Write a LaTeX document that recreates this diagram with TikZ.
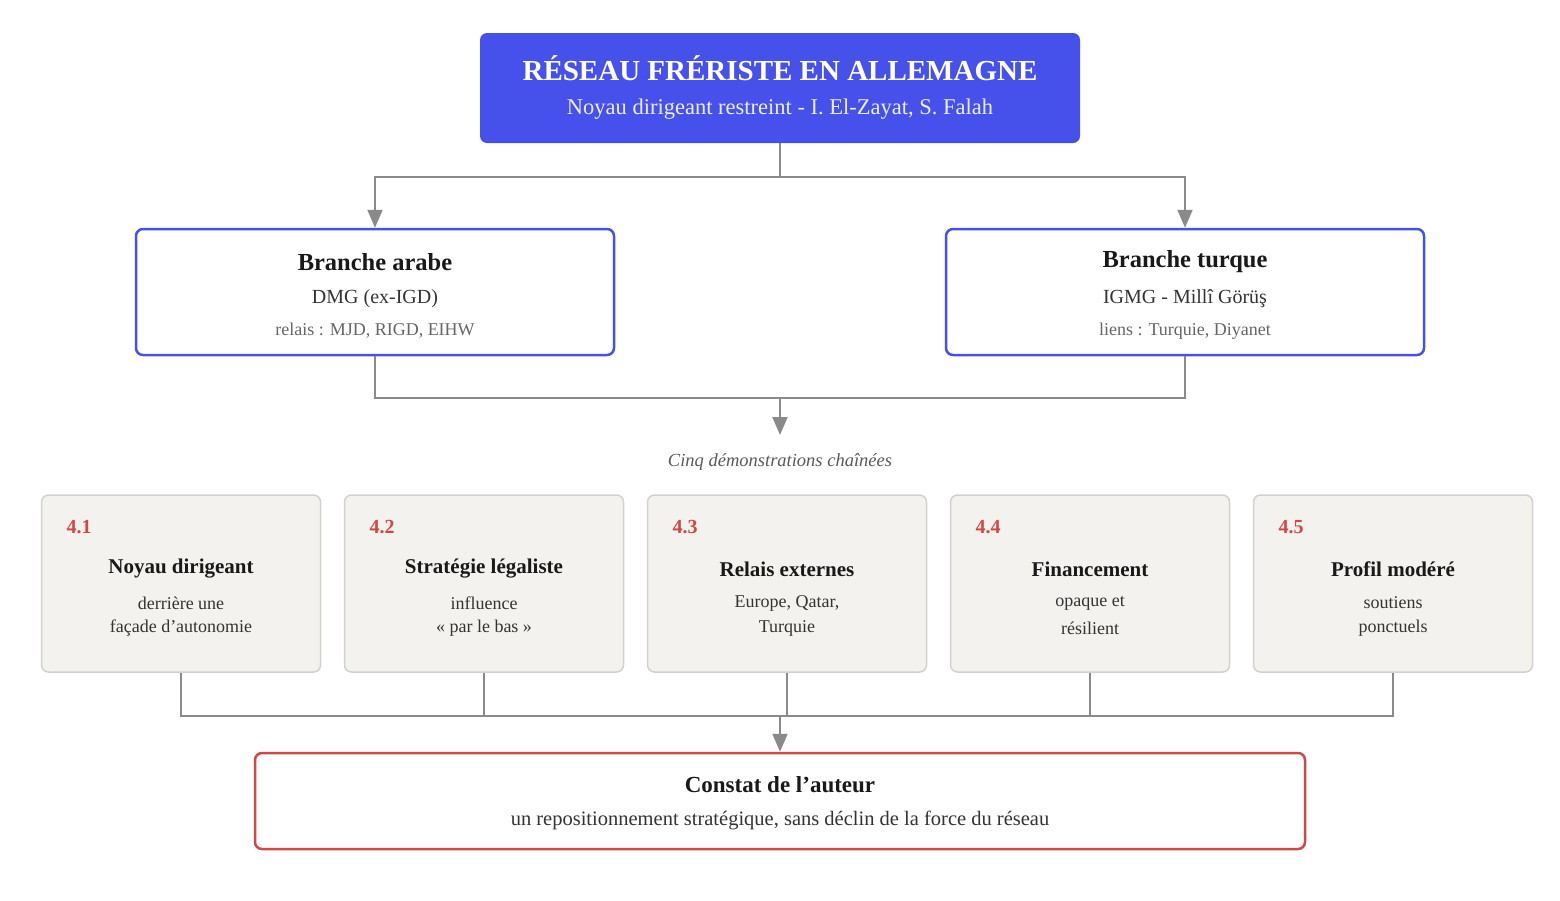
\documentclass[tikz,border=0pt]{standalone}
\usepackage{fontspec}
\setmainfont{Liberation Serif}
\usetikzlibrary{arrows.meta}
\definecolor{cblue}{HTML}{4651EC}
\definecolor{cred}{HTML}{D24848}
\definecolor{cgrey}{HTML}{8A8A8A}
\definecolor{cfill}{HTML}{F3F2EE}
\definecolor{cbord}{HTML}{D2D1CC}
\definecolor{ctext}{HTML}{333333}
\newcommand{\apos}{{\char"0027}}
\begin{document}
\begin{tikzpicture}[x=1pt,y=-1pt,
 conn/.style={draw=cgrey,line width=2pt},
 arr/.style={conn,-{Triangle[width=15pt,length=18pt]}},
 box/.style={rounded corners=7pt,inner sep=0pt},
 fs/.style={font=\fontsize{#1}{#1}\selectfont},
 bs/.style={font=\bfseries\fontsize{#1}{#1}\selectfont},
 is/.style={font=\itshape\fontsize{#1}{#1}\selectfont}]
\useasboundingbox (0,0) rectangle (1560,900);
% title
\node[box,fill=cblue,minimum width=600pt,minimum height=110pt] (top) at (780,88) {};
\node[bs=29,text=white] (t1) at (780,68) {RÉSEAU FRÉRISTE EN ALLEMAGNE};
\node[fs=22.5,text=white!90!cblue] (t2) at (780,109) {Noyau dirigeant restreint - I. El-Zayat, S. Falah};
% branches
\foreach \n/\x/\a/\b/\c in {bl/375/Branche arabe/DMG (ex-IGD)/{relais : MJD, RIGD, EIHW},br/1185/Branche turque/IGMG - Millî Görüş/{liens : Turquie, Diyanet}}{
 \node[box,draw=cblue,line width=2.5pt,fill=white,minimum width=478pt,minimum height=126pt] (\n) at (\x,292) {};
 \node[bs=24.5,text=black!90] (\n t) at (\x,262) {\a};
 \node[fs=20,text=ctext] (\n s) at (\x,299) {\b};
 \node[fs=18,text=black!60] (\n r) at (\x,331) {\c};
}
\coordinate (j1) at (780,177);
\draw[conn] (top.south) -- (j1);
\draw[arr] (j1) -| (bl.north);
\draw[arr] (j1) -| (br.north);
\coordinate (m1) at (780,398);
\coordinate (c1) at (780,435);
\draw[conn] (bl.south) |- (m1);
\draw[conn] (br.south) |- (m1);
\draw[arr] (m1) -- (c1);
\node[is=18.5,text=black!65] (cinq) at (780,462) {Cinq démonstrations chaînées};
% five boxes
\foreach \i/\x/\num/\ti/\la/\lb in {
 1/181/4.1/Noyau dirigeant/derrière une/façade d\apos autonomie,
 2/484/4.2/Stratégie légaliste/influence/« par le bas »,
 3/787/4.3/Relais externes/{Europe, Qatar,}/Turquie,
 4/1090/4.4/Financement/opaque et/résilient,
 5/1393/4.5/Profil modéré/soutiens/ponctuels}{
 \node[box,draw=cbord,line width=1.5pt,fill=cfill,minimum width=279pt,minimum height=177pt] (d\i) at (\x,583.5) {};
 \node[bs=20,text=cred,anchor=west] (n\i) at (\x-118,527) {\num};
 \node[bs=21,text=black!90] (h\i) at (\x,569) {\ti};
 \node[fs=18,text=ctext] (a\i) at (\x,603) {\la};
 \node[fs=18,text=ctext] (b\i) at (\x,628) {\lb};
}
\coordinate (m2) at (780,716);
\foreach \i in {1,...,5} \draw[conn] (d\i.south) |- (m2);
\node[box,draw=cred,line width=2.5pt,fill=white,minimum width=1050pt,minimum height=96pt] (fin) at (780,801) {};
\draw[arr] (m2) -- (fin.north);
\node[bs=23,text=black!90] (f1) at (780,785) {Constat de l\apos auteur};
\node[fs=20.5,text=ctext] (f2) at (780,820) {un repositionnement stratégique, sans déclin de la force du réseau};
\end{tikzpicture}
\end{document}
